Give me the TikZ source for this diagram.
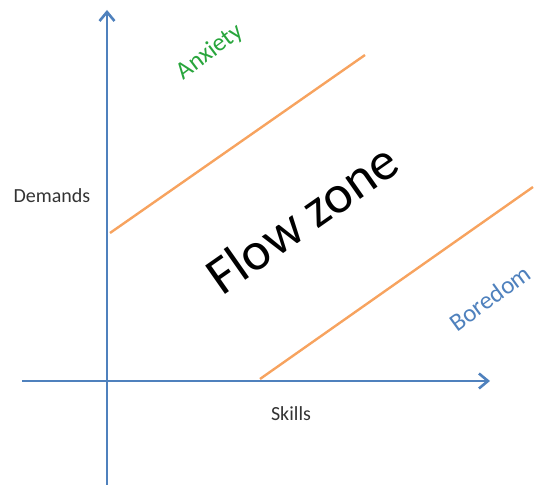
\documentclass[tikz,border=0pt]{standalone}
\usepackage{fontspec}
\setmainfont{Carlito}
\usetikzlibrary{arrows.meta}

\definecolor{axisblue}{RGB}{79,129,189}
\definecolor{zoneorange}{RGB}{247,163,95}
\definecolor{anxgreen}{RGB}{40,165,60}

\tikzset{
  axis/.style={draw=axisblue, line width=2.8pt, -{Straight Barb[length=9pt,width=15pt,line width=2.6pt]}},
  border/.style={draw=zoneorange, line width=2.4pt},
  axislabel/.style={font=\fontsize{20}{24}\selectfont, text=black!80},
  zonelabel/.style={font=\fontsize{25}{30}\selectfont}
}

\begin{document}
\begin{tikzpicture}[x=1pt,y=1pt]
\useasboundingbox (0,0) rectangle (542,488);
% axes
\coordinate (ybot) at (107,3);
\coordinate (ytop) at (107,478);
\coordinate (xleft) at (22,107);
\coordinate (xright) at (490,107);
\draw [axis] (ybot) -- (ytop);
\draw [axis] (xleft) -- (xright);

% borders of the flow zone
\coordinate (a_1) at (110,255);
\coordinate (a_2) at (365,433);
\coordinate (b_1) at (260,109);
\coordinate (b_2) at (533,301);
\draw [border] (a_1) -- (a_2);
\draw [border] (b_1) -- (b_2);

% labels
\node [axislabel] (demands) at (52,292) {Demands};
\node [axislabel] (skills) at (291,74) {Skills};
\node [zonelabel, text=anxgreen, rotate=37] (anxiety) at (210,436) {Anxiety};
\node [zonelabel, text=axisblue, rotate=36] (boredom) at (490,190) {Boredom};
\node [font=\fontsize{54}{60}\selectfont, rotate=35] (flow) at (302,270) {Flow zone};
\end{tikzpicture}
\end{document}
